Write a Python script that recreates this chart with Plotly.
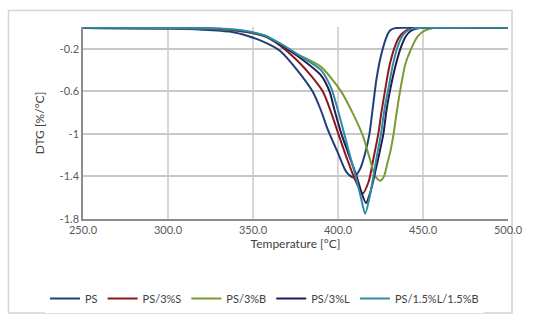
import plotly.graph_objects as go

# ---- data ----
ps_T = [250, 300, 320, 337, 347, 357, 366, 376, 385, 390, 394, 400, 405, 409, 413, 416, 418.5, 420.5, 422.5, 424.5, 426.5, 428.5, 430.5, 433, 440, 500]
ps_v = [-0.005, -0.01, -0.02, -0.04, -0.08, -0.14, -0.22, -0.40, -0.60, -0.78, -0.96, -1.18, -1.36, -1.41, -1.33, -1.18, -1.0, -0.75, -0.5, -0.32, -0.19, -0.09, -0.03, -0.008, -0.002, 0.0]

s_T = [250, 300, 330, 345, 357, 366, 376, 384, 391, 396, 400, 405, 410, 414.5, 418, 421, 423.7, 425.5, 427.6, 430, 433, 436, 440, 445, 450, 500]
s_v = [-0.004, -0.007, -0.015, -0.04, -0.08, -0.17, -0.31, -0.45, -0.6, -0.8, -0.99, -1.22, -1.43, -1.56, -1.45, -1.22, -1.0, -0.8, -0.6, -0.38, -0.2, -0.09, -0.03, -0.005, 0.0, 0.0]

b_T = [250, 300, 330, 345, 357, 366, 376, 390, 401.8, 408.5, 414.7, 419, 422, 424.8, 427, 429, 431, 432.7, 434.5, 436.5, 439.5, 443, 447, 451, 456, 460, 500]
b_v = [-0.004, -0.007, -0.015, -0.035, -0.085, -0.16, -0.25, -0.37, -0.6, -0.8, -1.02, -1.25, -1.4, -1.44, -1.4, -1.28, -1.15, -1.0, -0.8, -0.6, -0.35, -0.2, -0.08, -0.03, -0.005, 0.0, 0.0]

l_T = [250, 300, 330, 345, 357, 366, 376, 390, 395, 398, 401.8, 406, 411, 414, 416.5, 419, 422, 424.5, 426.7, 428.5, 430.5, 433.5, 436.7, 440, 443, 447, 452, 500]
l_v = [-0.004, -0.007, -0.012, -0.035, -0.08, -0.16, -0.265, -0.45, -0.6, -0.78, -0.99, -1.18, -1.4, -1.56, -1.65, -1.55, -1.35, -1.17, -1.0, -0.78, -0.6, -0.38, -0.2, -0.08, -0.03, -0.008, 0.0, 0.0]

lb_T = [250, 300, 330, 345, 357, 366, 376, 390, 396, 400, 403.5, 407, 410.6, 413.5, 416, 418.5, 421, 423.3, 425.3, 427.5, 429.6, 432, 434.7, 437.5, 440, 444, 450, 500]
lb_v = [-0.003, -0.005, -0.01, -0.03, -0.075, -0.15, -0.25, -0.40, -0.57, -0.78, -0.99, -1.2, -1.41, -1.6, -1.75, -1.6, -1.38, -1.17, -1.0, -0.75, -0.58, -0.37, -0.2, -0.09, -0.04, -0.01, -0.002, 0.0]

series_names = ["PS", "PS/3%S", "PS/3%B", "PS/3%L", "PS/1.5%L/1.5%B"]
series_T = [ps_T, s_T, b_T, l_T, lb_T]
series_v = [ps_v, s_v, b_v, l_v, lb_v]
colors = ["#1F3F7A", "#8B1A1E", "#7A9A34", "#231C4E", "#2E8BA6"]

x_ticks = [250, 300, 350, 400, 450, 500]
x_tick_text = ["250.0", "300.0", "350.0", "400.0", "450.0", "500.0"]
y_ticks = [-0.2, -0.6, -1.0, -1.4, -1.8]
y_tick_text = ["-0.2", "-0.6", "-1", "-1.4", "-1.8"]

FONT = "Lato, Carlito, Calibri, sans-serif"

fig = go.Figure()
for name, T, v, c in zip(series_names, series_T, series_v, colors):
    fig.add_trace(go.Scatter(x=T, y=v, mode="lines", name=name,
                             line=dict(color=c, width=2, shape="spline", smoothing=0.7)))

# vertical gridlines (no line at 500)
for xv in [300, 350, 400, 450]:
    fig.add_shape(type="line", xref="x", yref="y", x0=xv, x1=xv, y0=-1.8, y1=0.005,
                  line=dict(color="#C8C8C8", width=1.5), layer="below")

# outer chart border
fig.add_shape(type="rect", xref="paper", yref="paper",
              x0=(8.5 - 83) / 425, x1=(512 - 83) / 425,
              y0=-(313 - 219) / 192, y1=1 + (27 - 10.5) / 192,
              line=dict(color="#D4D4D4", width=1.5), fillcolor="rgba(0,0,0,0)", layer="below")

fig.update_layout(
    width=550, height=329,
    margin=dict(l=83, r=42, t=27, b=110),
    paper_bgcolor="white", plot_bgcolor="white",
    font=dict(family=FONT, size=11, color="#595959"),
    showlegend=True,
    legend=dict(orientation="h", x=(45 - 83) / 425, xanchor="left",
                y=-(284 - 219) / 192, yanchor="top",
                font=dict(family=FONT, size=11, color="#404040"),
                itemwidth=30, tracegroupgap=0),
)
fig.update_xaxes(range=[250, 500], tickvals=x_ticks, ticktext=x_tick_text,
                 showgrid=False, zeroline=False,
                 showline=True, linecolor="#8C8C8C", linewidth=1.5,
                 ticks="", tickfont=dict(size=11, color="#595959"),
                 title=dict(text="Temperature [°C]", font=dict(size=12, color="#404040"), standoff=2))
fig.update_yaxes(range=[-1.8, 0.005], tickvals=y_ticks, ticktext=y_tick_text,
                 showgrid=True, gridcolor="#C8C8C8", gridwidth=1.5, zeroline=False,
                 showline=True, linecolor="#8C8C8C", linewidth=1.5,
                 ticks="", tickfont=dict(size=11, color="#595959"),
                 title=dict(text="DTG [%/°C]", font=dict(size=12, color="#404040"), standoff=12))

fig.write_html("out.html", config={"displayModeBar": False},
               post_script="document.body.style.margin='0';document.body.style.overflow='hidden';")
